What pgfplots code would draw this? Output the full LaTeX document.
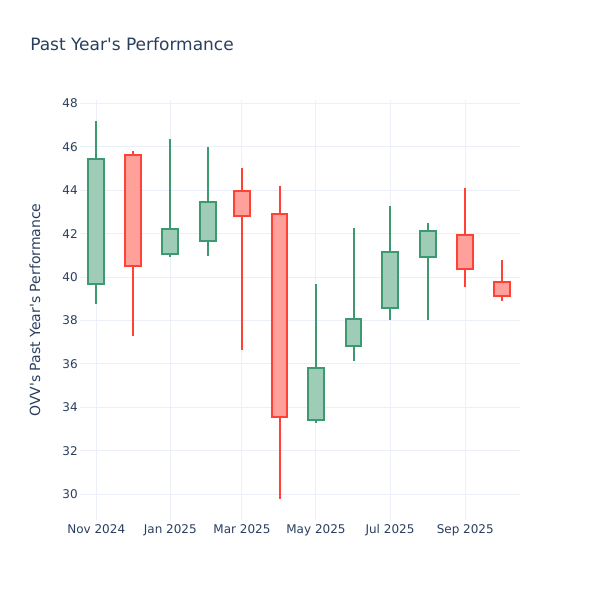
\documentclass[border=0pt]{standalone}
\usepackage{fontspec}
\setmainfont{DejaVu Sans}
\usepackage{pgfplots}
\usepackage{pgfplotstable}
\usepgfplotslibrary{statistics}
\pgfplotsset{compat=1.18}
\definecolor{txt}{HTML}{2A3F5F}
\definecolor{gridc}{HTML}{EBF0F8}
\definecolor{inc}{HTML}{3D9970}
\definecolor{dec}{HTML}{FF4136}

% rising months (close > open): bot = open, top = close
\pgfplotstableread{
x low bot top high
0 38.76 39.68 45.42 47.19
61 40.94 41.06 42.23 46.36
92 40.95 41.68 43.46 45.97
181 33.27 33.42 35.82 39.67
212 36.14 36.84 38.06 42.28
242 38.03 38.59 41.17 43.27
273 38.03 40.93 42.11 42.48
}\rising
% falling months (close < open): bot = close, top = open
\pgfplotstableread{
x low bot top high
30 37.30 40.51 45.64 45.81
120 36.63 42.81 43.95 45.02
151 29.80 33.58 42.91 44.19
304 39.56 40.37 41.92 44.12
334 38.92 39.15 39.79 40.77
}\falling

\pgfplotsset{
  up/.style={draw=inc, fill=inc!50!white, line width=1.5pt},
  down/.style={draw=dec, fill=dec!50!white, line width=1.5pt},
  candle/.code 2 args={%
    \pgfplotstablegetelem{#2}{x}\of#1%
    \pgfkeysalso{/pgfplots/boxplot/draw position/.expanded=\pgfplotsretval}%
    \pgfplotstablegetelem{#2}{low}\of#1%
    \pgfkeysalso{/pgfplots/boxplot/lower whisker/.expanded=\pgfplotsretval}%
    \pgfplotstablegetelem{#2}{bot}\of#1%
    \pgfkeysalso{/pgfplots/boxplot/lower quartile/.expanded=\pgfplotsretval}%
    \pgfkeysalso{/pgfplots/boxplot/median/.expanded=\pgfplotsretval}%
    \pgfplotstablegetelem{#2}{top}\of#1%
    \pgfkeysalso{/pgfplots/boxplot/upper quartile/.expanded=\pgfplotsretval}%
    \pgfplotstablegetelem{#2}{high}\of#1%
    \pgfkeysalso{/pgfplots/boxplot/upper whisker/.expanded=\pgfplotsretval}%
  },
}

\begin{document}
\begin{tikzpicture}
\path[use as bounding box, fill=white] (-60pt,-60pt) rectangle (390pt,390pt);
\begin{axis}[
  at={(0,0)}, anchor=south west,
  scale only axis, width=330pt, height=315pt,
  xmin=-13.4, xmax=349.1, ymin=28.82, ymax=48.15,
  axis line style={draw=none},
  tick style={draw=none},
  grid=major, grid style={gridc, line width=0.75pt},
  xtick={0,61,120,181,242,304},
  xticklabels={Nov 2024,Jan 2025,Mar 2025,May 2025,Jul 2025,Sep 2025},
  ytick={30,32,...,48},
  /pgf/number format/assume math mode=true,
  ticklabel style={font=\fontsize{9}{10.8}\selectfont, text=txt},
  xticklabel style={anchor=base, inner sep=0pt, yshift=-9.75pt},
  yticklabel style={anchor=east, inner sep=0pt, xshift=-1.5pt},
  boxplot/draw direction=y,
  boxplot/box extend=13,
  boxplot/whisker extend=0,
]
\addplot[up, boxplot prepared, candle={\rising}{0}] coordinates {};
\addplot[down, boxplot prepared, candle={\falling}{0}] coordinates {};
\addplot[up, boxplot prepared, candle={\rising}{1}] coordinates {};
\addplot[up, boxplot prepared, candle={\rising}{2}] coordinates {};
\addplot[down, boxplot prepared, candle={\falling}{1}] coordinates {};
\addplot[down, boxplot prepared, candle={\falling}{2}] coordinates {};
\addplot[up, boxplot prepared, candle={\rising}{3}] coordinates {};
\addplot[up, boxplot prepared, candle={\rising}{4}] coordinates {};
\addplot[up, boxplot prepared, candle={\rising}{5}] coordinates {};
\addplot[up, boxplot prepared, candle={\rising}{6}] coordinates {};
\addplot[down, boxplot prepared, candle={\falling}{3}] coordinates {};
\addplot[down, boxplot prepared, candle={\falling}{4}] coordinates {};
\end{axis}
\node[anchor=base west, inner sep=0pt, text=txt, font=\fontsize{12.75}{15}\selectfont] at (-37.5pt,352pt) {Past Year\textquotesingle s Performance};
\node[rotate=90, inner sep=0pt, text=txt, font=\fontsize{10.5}{12.6}\selectfont] at (-33.75pt,157.5pt) {OVV\textquotesingle s Past Year\textquotesingle s Performance};
\end{tikzpicture}
\end{document}
